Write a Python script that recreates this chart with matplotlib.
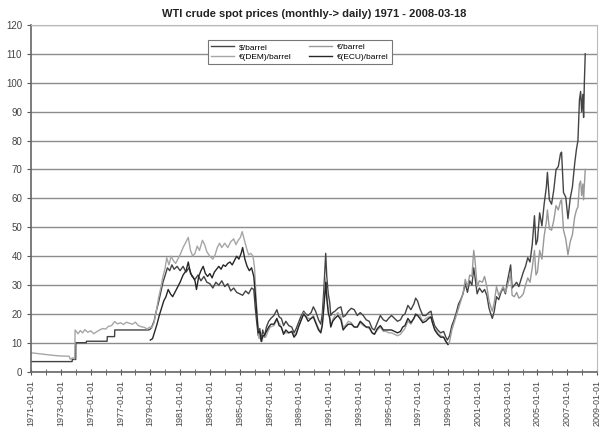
import numpy as np
import matplotlib
matplotlib.use("Agg")
import matplotlib.pyplot as plt
from matplotlib.ticker import MultipleLocator, FixedLocator

plt.rcParams['font.family'] = ['Liberation Sans', 'DejaVu Sans']

# $/barrel
usd_years = [1971.00, 1973.75, 1973.76, 1973.99, 1974.00, 1974.70, 1974.71, 1976.10, 1976.11, 1976.60,
             1976.61, 1978.90, 1979.05, 1979.25, 1979.40, 1979.55, 1979.70, 1979.85, 1980.00, 1980.15,
             1980.30, 1980.45, 1980.60, 1980.80, 1981.00, 1981.20, 1981.40, 1981.60, 1981.80, 1982.00,
             1982.20, 1982.40, 1982.60, 1982.80, 1983.00, 1983.20, 1983.40, 1983.60, 1983.80, 1984.00,
             1984.20, 1984.40, 1984.60, 1984.80, 1985.00, 1985.20, 1985.40, 1985.60, 1985.80, 1985.95,
             1986.05, 1986.15, 1986.25, 1986.35, 1986.45, 1986.55, 1986.65, 1986.80, 1986.95, 1987.10,
             1987.30, 1987.50, 1987.65, 1987.80, 1987.95, 1988.10, 1988.30, 1988.50, 1988.65, 1988.80,
             1988.95, 1989.10, 1989.30, 1989.45, 1989.60, 1989.80, 1989.95, 1990.10, 1990.30, 1990.45,
             1990.55, 1990.65, 1990.75, 1990.78, 1990.85, 1990.95, 1991.05, 1991.12, 1991.25, 1991.40,
             1991.60, 1991.80, 1991.95, 1992.10, 1992.30, 1992.50, 1992.70, 1992.90, 1993.10, 1993.30,
             1993.50, 1993.70, 1993.90, 1994.05, 1994.25, 1994.45, 1994.65, 1994.85, 1995.00, 1995.20,
             1995.40, 1995.60, 1995.80, 1995.95, 1996.10, 1996.30, 1996.50, 1996.70, 1996.82, 1996.95,
             1997.10, 1997.30, 1997.50, 1997.70, 1997.85, 1997.95, 1998.10, 1998.30, 1998.50, 1998.70,
             1998.85, 1998.95, 1999.10, 1999.25, 1999.40, 1999.55, 1999.70, 1999.85, 2000.00, 2000.15,
             2000.30, 2000.45, 2000.60, 2000.72, 2000.80, 2000.95, 2001.10, 2001.30, 2001.45, 2001.60,
             2001.75, 2001.90, 2001.97, 2002.10, 2002.25, 2002.40, 2002.55, 2002.70, 2002.85, 2002.97,
             2003.10, 2003.20, 2003.30, 2003.45, 2003.60, 2003.75, 2003.90, 2004.05, 2004.20, 2004.35,
             2004.50, 2004.65, 2004.80, 2004.90, 2005.00, 2005.15, 2005.30, 2005.45, 2005.60, 2005.67,
             2005.80, 2005.95, 2006.10, 2006.25, 2006.40, 2006.55, 2006.62, 2006.75, 2006.90, 2007.05,
             2007.20, 2007.35, 2007.50, 2007.62, 2007.72, 2007.82, 2007.90, 2007.97, 2008.05, 2008.10,
             2008.15, 2008.21]
usd_vals = [3.56, 3.56, 4.3, 4.3, 10.1, 10.1, 10.6, 10.6, 12.2, 12.2,
            14.5, 14.5, 15.0, 17.5, 21.0, 24.0, 27.5, 31.0, 33.5, 36.0,
            35.0, 37.0, 35.5, 36.5, 35.0, 36.5, 34.5, 36.0, 33.0, 32.0,
            33.5, 31.5, 33.0, 31.0, 30.5, 29.0, 31.0, 30.0, 31.5, 29.5,
            30.5, 28.0, 29.0, 27.5, 27.0, 26.5, 28.0, 27.0, 29.0, 28.5,
            22.0, 17.0, 12.5, 15.0, 11.0, 14.5, 12.0, 15.5, 17.5, 18.5,
            19.5, 21.5, 19.0, 18.5, 16.0, 17.5, 16.0, 15.5, 13.5, 15.0,
            17.0, 19.0, 21.0, 20.0, 19.5, 20.5, 22.5, 21.0, 18.0, 16.5,
            20.0, 28.0, 38.0, 41.0, 33.0, 27.0, 24.0, 19.5, 20.5, 21.0,
            22.0, 22.5, 19.0, 19.5, 21.0, 22.0, 21.5, 19.5, 20.5, 19.5,
            18.0, 17.5, 15.0, 14.5, 17.0, 19.5, 18.0, 17.5, 18.5, 19.5,
            18.5, 17.5, 18.0, 19.5, 20.0, 23.0, 21.5, 23.5, 25.5, 24.5,
            22.0, 19.5, 19.5, 20.5, 21.0, 18.5, 16.0, 14.5, 13.5, 14.0,
            12.0, 11.0, 12.5, 16.0, 18.0, 20.5, 23.5, 25.0, 27.0, 30.5,
            27.5, 31.5, 30.0, 36.0, 33.0, 27.0, 29.0, 27.5, 28.5, 26.5,
            22.0, 19.5, 18.5, 21.0, 26.0, 25.0, 27.5, 29.0, 27.0, 31.0,
            34.5, 37.0, 29.0, 30.0, 31.0, 29.5, 32.0, 34.5, 36.5, 39.5,
            38.0, 44.0, 54.0, 44.0, 45.5, 55.0, 50.5, 58.0, 64.0, 69.0,
            59.5, 58.0, 63.0, 70.0, 71.0, 75.5, 76.0, 62.0, 60.5, 53.0,
            60.0, 64.0, 72.0, 77.0, 80.0, 94.0, 97.0, 90.0, 96.0, 88.0,
            100.0, 110.0]

# €/barrel (from 1999)
eur_years = [1999.00, 1999.10, 1999.25, 1999.40, 1999.55, 1999.70, 1999.85, 2000.00, 2000.15, 2000.30,
             2000.45, 2000.60, 2000.72, 2000.80, 2000.95, 2001.10, 2001.30, 2001.45, 2001.60, 2001.75,
             2001.90, 2001.97, 2002.10, 2002.25, 2002.40, 2002.55, 2002.70, 2002.85, 2002.97, 2003.10,
             2003.20, 2003.30, 2003.45, 2003.60, 2003.75, 2003.90, 2004.05, 2004.20, 2004.35, 2004.50,
             2004.65, 2004.80, 2004.90, 2005.00, 2005.15, 2005.30, 2005.45, 2005.60, 2005.67, 2005.80,
             2005.95, 2006.10, 2006.25, 2006.40, 2006.55, 2006.62, 2006.75, 2006.90, 2007.05, 2007.20,
             2007.35, 2007.50, 2007.62, 2007.72, 2007.82, 2007.90, 2007.97, 2008.05, 2008.10, 2008.15,
             2008.21]
eur_vals = [9.5, 10.5, 14.5, 17.0, 19.5, 22.0, 24.5, 27.0, 32.0, 29.5,
            33.5, 33.0, 42.0, 39.0, 29.5, 31.5, 31.0, 33.0, 29.5, 24.5,
            22.0, 21.0, 24.0, 29.5, 26.5, 28.0, 29.5, 27.5, 29.5, 32.0,
            34.0, 26.5, 26.0, 27.5, 25.5, 26.0, 27.0, 30.0, 32.5, 31.0,
            36.0, 42.0, 33.5, 34.5, 42.0, 39.0, 47.0, 52.0, 56.0, 49.5,
            49.0, 52.5, 57.5, 56.0, 59.0, 59.5, 49.0, 46.0, 40.5, 45.0,
            47.5, 53.5, 56.0, 57.0, 65.0, 66.0, 61.0, 65.0, 59.5, 64.5,
            70.0]

# €(DEM)/barrel (1971-1998)
dem_years = [1971.00, 1971.50, 1972.00, 1972.50, 1973.00, 1973.55, 1973.62, 1973.80, 1973.92, 1973.95,
             1974.15, 1974.30, 1974.45, 1974.60, 1974.80, 1975.00, 1975.20, 1975.40, 1975.60, 1975.80,
             1976.00, 1976.20, 1976.40, 1976.60, 1976.80, 1977.00, 1977.20, 1977.40, 1977.60, 1977.80,
             1978.00, 1978.20, 1978.40, 1978.60, 1978.80, 1978.95, 1979.10, 1979.25, 1979.40, 1979.55,
             1979.70, 1979.85, 1980.00, 1980.10, 1980.25, 1980.40, 1980.55, 1980.70, 1980.85, 1981.00,
             1981.20, 1981.40, 1981.55, 1981.70, 1981.85, 1982.00, 1982.15, 1982.30, 1982.50, 1982.65,
             1982.80, 1983.00, 1983.20, 1983.35, 1983.50, 1983.65, 1983.80, 1984.00, 1984.20, 1984.40,
             1984.60, 1984.75, 1984.90, 1985.05, 1985.17, 1985.30, 1985.45, 1985.60, 1985.75, 1985.90,
             1986.00, 1986.10, 1986.20, 1986.30, 1986.40, 1986.50, 1986.60, 1986.75, 1986.90, 1987.05,
             1987.30, 1987.50, 1987.70, 1987.90, 1988.10, 1988.30, 1988.50, 1988.65, 1988.80, 1988.95,
             1989.10, 1989.30, 1989.45, 1989.60, 1989.80, 1989.95, 1990.10, 1990.30, 1990.45, 1990.55,
             1990.65, 1990.75, 1990.78, 1990.85, 1990.95, 1991.05, 1991.12, 1991.25, 1991.40, 1991.60,
             1991.80, 1991.95, 1992.10, 1992.30, 1992.50, 1992.70, 1992.90, 1993.10, 1993.30, 1993.50,
             1993.70, 1993.90, 1994.05, 1994.25, 1994.45, 1994.65, 1994.85, 1995.00, 1995.20, 1995.40,
             1995.60, 1995.80, 1995.95, 1996.10, 1996.30, 1996.50, 1996.70, 1996.82, 1996.95, 1997.10,
             1997.30, 1997.50, 1997.70, 1997.85, 1997.95, 1998.10, 1998.30, 1998.50, 1998.70, 1998.85,
             1998.99]
dem_vals = [6.6, 6.3, 6.0, 5.7, 5.5, 5.4, 4.4, 4.9, 4.5, 14.5,
            13.2, 14.3, 13.5, 14.6, 13.7, 14.2, 13.2, 13.9, 14.5, 15.0,
            14.8, 15.8, 16.0, 17.4, 16.6, 17.0, 16.4, 17.2, 16.8, 16.5,
            17.2, 16.0, 15.6, 15.4, 14.8, 15.5, 15.2, 17.0, 21.0, 25.5,
            29.0, 33.0, 36.0, 39.5, 37.0, 40.0, 38.5, 37.5, 39.0, 40.5,
            43.0, 45.0, 46.5, 42.0, 40.0, 41.0, 43.5, 42.0, 45.5, 44.0,
            41.5, 40.0, 39.0, 40.5, 43.0, 44.5, 43.0, 44.5, 43.0, 45.0,
            46.0, 44.0, 45.5, 46.5, 48.5, 46.0, 43.0, 40.5, 41.0, 40.0,
            36.0, 26.0, 18.0, 11.5, 12.5, 10.5, 13.0, 12.0, 14.0, 15.5,
            16.0, 18.0, 16.5, 14.0, 13.5, 13.5, 14.0, 12.5, 13.5, 15.5,
            17.5, 20.5, 19.5, 18.5, 18.5, 19.5, 17.5, 15.0, 14.0, 16.5,
            23.0, 30.0, 32.5, 27.0, 21.5, 19.0, 16.0, 18.0, 19.5, 20.5,
            19.0, 15.5, 16.0, 17.5, 17.0, 15.5, 15.5, 17.0, 16.0, 15.5,
            15.0, 13.5, 13.0, 14.5, 15.5, 14.0, 14.0, 13.5, 13.5, 13.0,
            12.5, 13.0, 14.0, 15.0, 17.5, 16.5, 18.5, 19.5, 19.5, 19.5,
            17.5, 18.5, 19.0, 19.0, 17.0, 15.0, 13.5, 12.5, 12.0, 10.5,
            9.8]

# €(ECU)/barrel (1979-1998)
ecu_years = [1979.00, 1979.15, 1979.30, 1979.45, 1979.60, 1979.75, 1979.90, 1980.05, 1980.20, 1980.35,
             1980.50, 1980.65, 1980.80, 1981.00, 1981.20, 1981.40, 1981.55, 1981.70, 1981.85, 1982.00,
             1982.10, 1982.25, 1982.40, 1982.55, 1982.70, 1982.85, 1983.00, 1983.15, 1983.30, 1983.45,
             1983.60, 1983.75, 1983.90, 1984.05, 1984.20, 1984.35, 1984.50, 1984.65, 1984.80, 1984.95,
             1985.10, 1985.20, 1985.35, 1985.50, 1985.65, 1985.80, 1985.95, 1986.05, 1986.15, 1986.25,
             1986.35, 1986.45, 1986.55, 1986.65, 1986.80, 1986.95, 1987.10, 1987.30, 1987.50, 1987.65,
             1987.80, 1987.95, 1988.10, 1988.30, 1988.50, 1988.65, 1988.80, 1988.95, 1989.10, 1989.30,
             1989.45, 1989.60, 1989.80, 1989.95, 1990.10, 1990.30, 1990.45, 1990.55, 1990.65, 1990.75,
             1990.78, 1990.85, 1990.95, 1991.05, 1991.12, 1991.25, 1991.40, 1991.60, 1991.80, 1991.95,
             1992.10, 1992.30, 1992.50, 1992.70, 1992.90, 1993.10, 1993.30, 1993.50, 1993.70, 1993.90,
             1994.05, 1994.25, 1994.45, 1994.65, 1994.85, 1995.00, 1995.20, 1995.40, 1995.60, 1995.80,
             1995.95, 1996.10, 1996.30, 1996.50, 1996.70, 1996.82, 1996.95, 1997.10, 1997.30, 1997.50,
             1997.70, 1997.85, 1997.95, 1998.10, 1998.30, 1998.50, 1998.70, 1998.85, 1998.99]
ecu_vals = [11.0, 11.5, 14.0, 16.5, 19.5, 22.0, 24.5, 26.0, 28.5, 27.0,
            26.0, 27.5, 29.0, 31.0, 33.5, 35.0, 38.0, 34.0, 33.0, 31.5,
            28.5, 33.0, 35.0, 36.5, 34.0, 33.0, 34.0, 32.5, 34.5, 35.5,
            36.5, 35.5, 37.0, 36.5, 37.5, 38.0, 37.0, 38.5, 40.0, 39.0,
            41.0, 43.0, 39.0, 36.5, 35.0, 36.0, 33.0, 27.0, 20.0, 13.5,
            14.0, 10.5, 12.5, 12.5, 14.0, 15.5, 16.5, 16.5, 18.5, 16.0,
            15.5, 13.0, 14.5, 13.5, 14.0, 12.0, 13.0, 15.5, 17.5, 20.0,
            19.0, 17.5, 18.5, 19.0, 17.0, 14.5, 13.5, 16.0, 22.0, 28.5,
            31.0, 25.5, 20.5, 18.5, 15.5, 17.5, 18.5, 19.5, 18.0, 14.5,
            15.5, 16.5, 16.5, 15.5, 15.5, 17.5, 16.5, 15.5, 15.5, 13.5,
            13.0, 15.0, 16.0, 14.5, 14.5, 14.5, 14.5, 14.0, 13.5, 14.0,
            15.5, 16.0, 18.5, 17.0, 18.5, 20.0, 19.5, 18.5, 17.0, 17.5,
            18.5, 19.0, 17.0, 14.5, 13.0, 12.0, 12.0, 10.5, 9.5]

tick_years = list(range(1971, 2010, 2))
tick_labels = ["%d-01-01" % y for y in tick_years]

fig = plt.figure(figsize=(6.0, 4.37), dpi=100)
ax = fig.add_axes([0.052, 0.149, 0.943, 0.794])

ax.set_xlim(1971, 2009)
ax.set_ylim(0, 120)
ax.yaxis.set_major_locator(MultipleLocator(10))
ax.grid(True, axis='y', color='#8c8c8c', linewidth=1.0)
ax.set_axisbelow(True)

l_usd, = ax.plot(usd_years, usd_vals, color='#444444', linewidth=1.0)
l_eur, = ax.plot(eur_years, eur_vals, color='#999999', linewidth=1.0)
l_dem, = ax.plot(dem_years, dem_vals, color='#a6a6a6', linewidth=1.0)
l_ecu, = ax.plot(ecu_years, ecu_vals, color='#262626', linewidth=1.0)

ax.xaxis.set_major_locator(FixedLocator(tick_years))
ax.xaxis.set_minor_locator(MultipleLocator(1))
ax.set_xticklabels(tick_labels, rotation=90, fontsize=6.5, color='#444444')
ax.tick_params(axis='x', which='both', direction='inout', length=4, color='#555555')
ax.tick_params(axis='y', direction='out', length=3, labelsize=7, labelcolor='#444444', color='#555555')

for s in ['top', 'right']:
    ax.spines[s].set_color('#bbbbbb')
for s in ['left', 'bottom']:
    ax.spines[s].set_color('#666666')
    ax.spines[s].set_linewidth(1.2)

ax.set_title("WTI crude spot prices (monthly-> daily) 1971 - 2008-03-18",
             fontsize=8, fontweight='bold', color='#222222', pad=6)

leg = ax.legend([l_usd, l_dem, l_eur, l_ecu],
                ["$/barrel", "€(DEM)/barrel", "€/barrel", "€(ECU)/barrel"],
                ncol=2, loc='upper center', bbox_to_anchor=(0.475, 0.968),
                fontsize=6, frameon=True, fancybox=False, framealpha=1,
                edgecolor='#777777', handlelength=2.8, columnspacing=2.0,
                borderpad=0.4, labelspacing=0.2, handletextpad=0.6)
leg.get_frame().set_linewidth(0.8)

fig.savefig("out.png", dpi=100)
